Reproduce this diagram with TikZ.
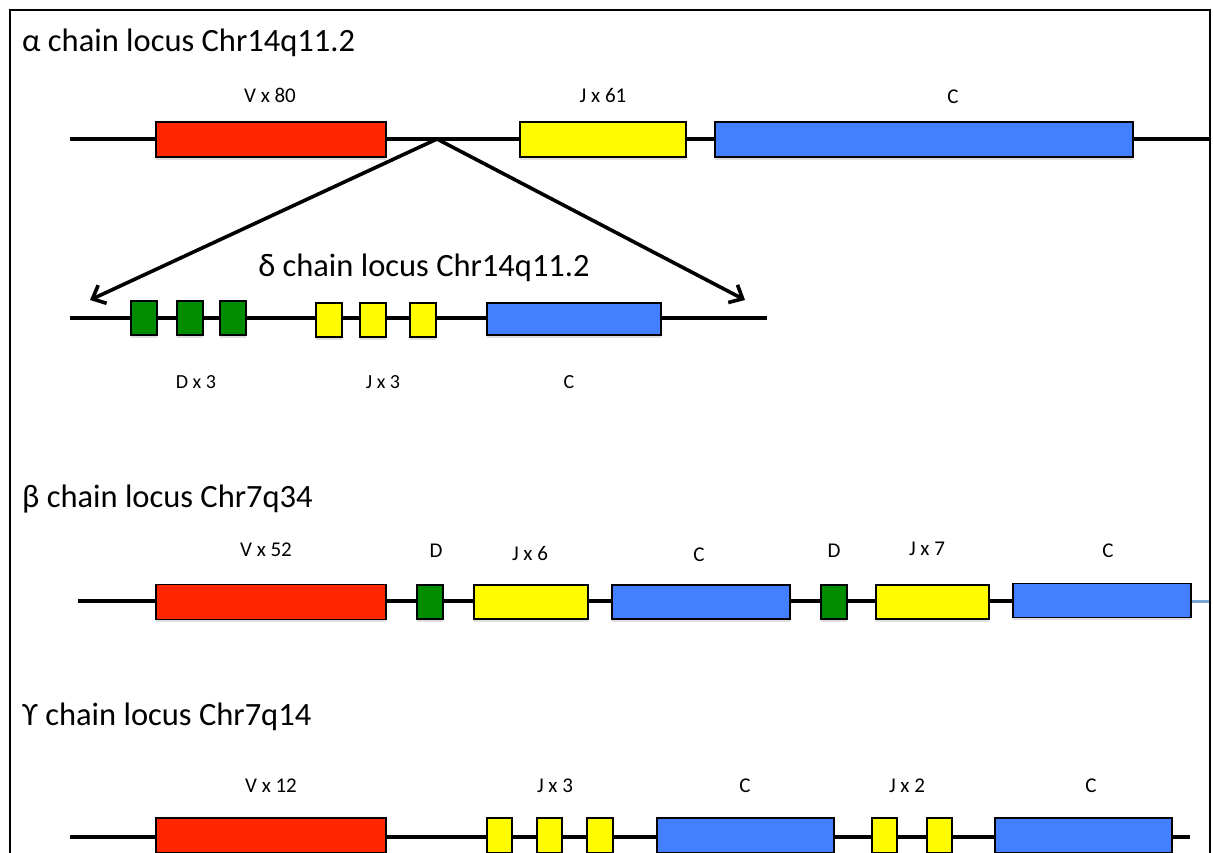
\documentclass[tikz,border=0pt]{standalone}
\usepackage{fontspec}
\setmainfont{Carlito}
\usetikzlibrary{arrows.meta,shadows}
\definecolor{gred}{RGB}{255,38,0}
\definecolor{gyel}{RGB}{255,251,0}
\definecolor{gblu}{RGB}{66,128,255}
\definecolor{ggrn}{RGB}{0,140,0}
\definecolor{tailblue}{RGB}{120,165,210}
\begin{document}
\begin{tikzpicture}[x=1pt,y=-1pt,
  gene/.style={draw=black, line width=1.8pt, inner sep=0pt, minimum height=35pt,
    drop shadow={shadow xshift=0pt, shadow yshift=-2.5pt, opacity=0.25}},
  vseg/.style={gene, fill=gred},
  jseg/.style={gene, fill=gyel},
  cseg/.style={gene, fill=gblu},
  dseg/.style={gene, fill=ggrn},
  backbone/.style={line width=4pt},
  link/.style={line width=3.6pt, -{Straight Barb[length=11pt,width=20pt,line width=3.6pt]}},
  lbl/.style={anchor=base, inner sep=0pt, font=\fontsize{21}{24}\selectfont},
  slbl/.style={anchor=base, inner sep=0pt, font=\fontsize{20}{24}\selectfont},
  ttl/.style={anchor=base west, inner sep=0pt, font=\fontsize{32.5}{36}\selectfont},
]
\useasboundingbox (0,0) rectangle (1213,852);
% frame
\draw[line width=1.8pt] (10,870) -- (10,10) -- (1210,10) -- (1210,870);

% ---------- alpha ----------
\node[ttl] (ta) at (22,51) {α chain locus Chr14q11.2};
\coordinate (a0) at (70,139);
\coordinate (a1) at (1209,139);
\draw[backbone] (a0) -- (a1);
\node[vseg, minimum width=230pt] (aV) at (271,139.5) {};
\node[jseg, minimum width=166pt] (aJ) at (603,139.5) {};
\node[cseg, minimum width=418pt] (aC) at (924,139.5) {};
\node[lbl] (laV) at (270,102) {V x 80};
\node[lbl] (laJ) at (603,102) {J x 61};
\node[lbl] (laC) at (953,103) {C};

% ---------- delta ----------
\coordinate (apex) at (437,139);
\coordinate (dl) at (90,300);
\coordinate (dr) at (745,300);
\draw[link] (apex) -- (dl);
\draw[link] (apex) -- (dr);
\node[anchor=base, inner sep=0pt, font=\fontsize{32.5}{36}\selectfont] (td) at (424,276) {δ chain locus Chr14q11.2};
\coordinate (d0) at (70,318);
\coordinate (d1) at (767,318);
\draw[backbone] (d0) -- (d1);
\node[dseg, minimum width=26pt, minimum height=34pt] (dD1) at (144,318) {};
\node[dseg, minimum width=26pt, minimum height=34pt] (dD2) at (190,318) {};
\node[dseg, minimum width=26pt, minimum height=34pt] (dD3) at (233,318) {};
\node[jseg, minimum width=26pt, minimum height=34pt] (dJ1) at (329,320) {};
\node[jseg, minimum width=26pt, minimum height=34pt] (dJ2) at (373,320) {};
\node[jseg, minimum width=26pt, minimum height=34pt] (dJ3) at (423,320) {};
\node[cseg, minimum width=174pt, minimum height=32pt] (dC) at (574,319) {};
\node[slbl] (ldD) at (196,388) {D x 3};
\node[slbl] (ldJ) at (383,388) {J x 3};
\node[slbl] (ldC) at (569,388) {C};

% ---------- beta ----------
\node[ttl] (tb) at (22,507) {β chain locus Chr7q34};
\coordinate (b0) at (78,601);
\coordinate (b1) at (1191,601);
\coordinate (b2) at (1209,601);
\draw[backbone] (b0) -- (b1);
\draw[line width=3pt, tailblue] (b1) -- (b2);
\node[vseg, minimum width=230pt] (bV) at (271,602) {};
\node[dseg, minimum width=26pt, minimum height=34pt] (bD1) at (430,602) {};
\node[jseg, minimum width=114pt, minimum height=34pt] (bJ1) at (531,602) {};
\node[cseg, minimum width=178pt, minimum height=34pt] (bC1) at (701,602) {};
\node[dseg, minimum width=26pt, minimum height=34pt] (bD2) at (834,602) {};
\node[jseg, minimum width=113pt, minimum height=34pt] (bJ2) at (932.5,602) {};
\node[cseg, minimum width=178pt, minimum height=34pt] (bC2) at (1102,600.5) {};
\node[lbl] (lbV) at (266,556) {V x 52};
\node[lbl] (lbD1) at (436,557) {D};
\node[lbl] (lbJ1) at (530,560) {J x 6};
\node[lbl] (lbC1) at (699,561) {C};
\node[lbl] (lbD2) at (834,557) {D};
\node[lbl] (lbJ2) at (927,555) {J x 7};
\node[lbl] (lbC2) at (1108,557) {C};

% ---------- gamma ----------
\node[ttl] (tg) at (22,725) {ϒ chain locus Chr7q14};
\coordinate (g0) at (70,837);
\coordinate (g1) at (1190,837);
\draw[backbone] (g0) -- (g1);
\node[vseg, minimum width=230pt] (gV) at (271,835.5) {};
\node[jseg, minimum width=25pt] (gJ1) at (499.5,835.5) {};
\node[jseg, minimum width=25pt] (gJ2) at (549.5,835.5) {};
\node[jseg, minimum width=26pt] (gJ3) at (600,835.5) {};
\node[cseg, minimum width=177pt] (gC1) at (745.5,835.5) {};
\node[jseg, minimum width=25pt] (gJ4) at (884.5,835.5) {};
\node[jseg, minimum width=25pt] (gJ5) at (939.5,835.5) {};
\node[cseg, minimum width=177pt] (gC2) at (1083.5,835.5) {};
\node[lbl] (lgV) at (271,792) {V x 12};
\node[lbl] (lgJ1) at (555,792) {J x 3};
\node[lbl] (lgC1) at (745,792) {C};
\node[lbl] (lgJ2) at (907,792) {J x 2};
\node[lbl] (lgC2) at (1091,792) {C};
\end{tikzpicture}
\end{document}
